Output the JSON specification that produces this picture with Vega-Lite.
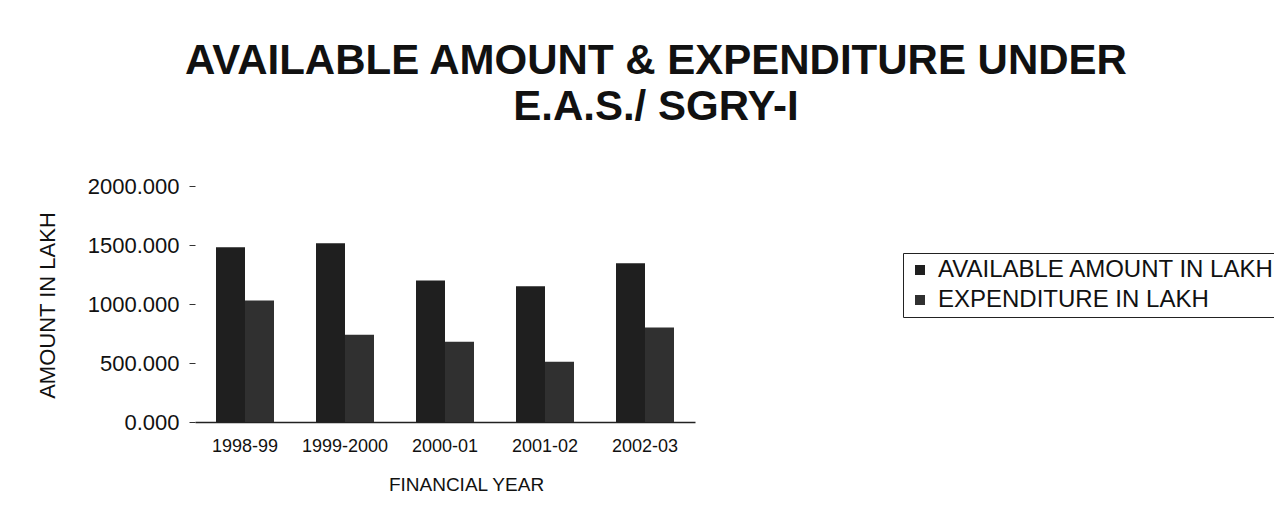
{
  "$schema": "https://vega.github.io/schema/vega-lite/v6.json",
  "autosize": "none",
  "width": 500,
  "height": 236,
  "padding": {"left": 195, "top": 186, "right": 579, "bottom": 109},
  "background": "white",
  "title": {
    "text": ["AVAILABLE AMOUNT & EXPENDITURE UNDER", "E.A.S./ SGRY-I"],
    "font": "Liberation Sans",
    "fontSize": 42,
    "fontWeight": "bold",
    "lineHeight": 46,
    "color": "#111",
    "anchor": "middle",
    "frame": "group",
    "dx": 211,
    "offset": 46
  },
  "data": {
    "values": [
      {"year": "1998-99", "series": "AVAILABLE AMOUNT IN LAKH", "amount": 1480},
      {"year": "1998-99", "series": "EXPENDITURE IN LAKH", "amount": 1030},
      {"year": "1999-2000", "series": "AVAILABLE AMOUNT IN LAKH", "amount": 1515},
      {"year": "1999-2000", "series": "EXPENDITURE IN LAKH", "amount": 740},
      {"year": "2000-01", "series": "AVAILABLE AMOUNT IN LAKH", "amount": 1200},
      {"year": "2000-01", "series": "EXPENDITURE IN LAKH", "amount": 680},
      {"year": "2001-02", "series": "AVAILABLE AMOUNT IN LAKH", "amount": 1150},
      {"year": "2001-02", "series": "EXPENDITURE IN LAKH", "amount": 510},
      {"year": "2002-03", "series": "AVAILABLE AMOUNT IN LAKH", "amount": 1345},
      {"year": "2002-03", "series": "EXPENDITURE IN LAKH", "amount": 800}
    ]
  },
  "mark": {"type": "bar"},
  "encoding": {
    "x": {
      "field": "year",
      "type": "nominal",
      "sort": null,
      "scale": {"paddingInner": 0.42, "paddingOuter": 0.21},
      "axis": {
        "title": "FINANCIAL YEAR",
        "labelAngle": 0,
        "ticks": false,
        "domain": true,
        "domainColor": "#222",
        "domainWidth": 1.5,
        "labelFont": "Liberation Sans",
        "labelFontSize": 18,
        "labelColor": "#111",
        "labelPadding": 15,
        "titleFont": "Liberation Sans",
        "titleFontSize": 19,
        "titleFontWeight": "normal",
        "titleColor": "#111",
        "titleX": 271,
        "titleY": 62,
        "titleBaseline": "middle"
      }
    },
    "xOffset": {"field": "series", "type": "nominal"},
    "y": {
      "field": "amount",
      "type": "quantitative",
      "scale": {"domain": [0, 2000]},
      "axis": {
        "title": "AMOUNT IN LAKH",
        "values": [0, 500, 1000, 1500, 2000],
        "format": ".3f",
        "grid": false,
        "domain": false,
        "ticks": true,
        "tickSize": 6,
        "tickColor": "#333",
        "labelFont": "Liberation Sans",
        "labelFontSize": 22,
        "labelColor": "#111",
        "labelPadding": 10,
        "titleFont": "Liberation Sans",
        "titleFontSize": 22,
        "titleFontWeight": "normal",
        "titleColor": "#111",
        "titleX": -148,
        "titleY": 119,
        "titleAlign": "center",
        "titleBaseline": "middle"
      }
    },
    "color": {
      "field": "series",
      "type": "nominal",
      "scale": {"range": ["#1f1f1f", "#303030"]},
      "legend": {
        "title": null,
        "orient": "none",
        "legendX": 708,
        "legendY": 67,
        "symbolType": "square",
        "symbolSize": 100,
        "labelOffset": 6,
        "labelFont": "Liberation Sans",
        "labelFontSize": 24,
        "labelColor": "#111",
        "labelLimit": 500,
        "rowPadding": 6,
        "strokeColor": "#222",
        "padding": 5
      }
    }
  },
  "config": {"view": {"stroke": null}}
}
